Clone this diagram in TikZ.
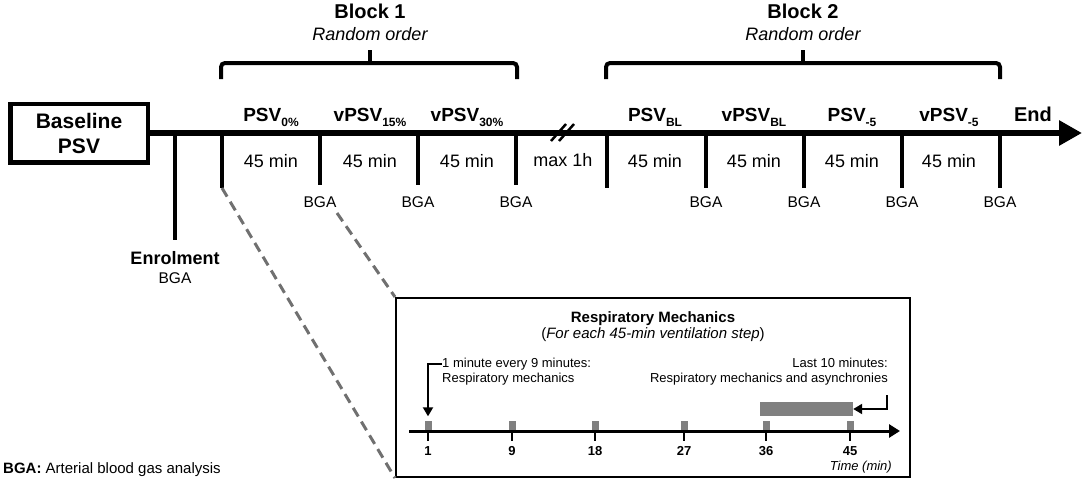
\documentclass[tikz,border=0pt]{standalone}
\usepackage{fontspec}
\setmainfont{Liberation Sans}
\usetikzlibrary{arrows.meta}
\newcommand\fsz[1]{\fontsize{#1pt}{#1pt}\selectfont}
\newcommand\lsub[1]{\raisebox{-5pt}{\fsz{12}#1}}
\definecolor{dashgray}{RGB}{112,112,112}
\definecolor{bargray}{RGB}{128,128,128}
\begin{document}
\begin{tikzpicture}[x=1pt,y=-1pt,
  thickln/.style={line width=6pt},
  tickln/.style={line width=4.5pt},
  brk/.style={line width=4pt, rounded corners=4pt},
  steplbl/.style={anchor=base, font=\fsz{19}\bfseries, inner sep=0pt},
  durlbl/.style={anchor=base, font=\fsz{18}, inner sep=0pt},
  bgalbl/.style={anchor=base, font=\fsz{15.5}, inner sep=0pt},
  blocklbl/.style={anchor=base, font=\fsz{20}\bfseries, inner sep=0pt},
  randlbl/.style={anchor=base, font=\fsz{18}\itshape, inner sep=0pt},
  dashln/.style={dashgray, line width=3pt, dash pattern=on 10pt off 6pt},
  smalltxt/.style={font=\fsz{13}, inner sep=0pt},
  marker/.style={fill=bargray, minimum width=7pt, minimum height=9pt, inner sep=0pt},
  itick/.style={line width=2.5pt},
  ticklbl/.style={anchor=base, font=\fsz{13}\bfseries, inner sep=0pt},
  bentarrow/.style={line width=2pt, -{Triangle[length=9pt,width=10pt]}}
]
\useasboundingbox (0,0) rectangle (1084,482);

% baseline box
\node[draw, line width=4.5pt, minimum width=137.5pt, minimum height=58.5pt,
      align=center, font=\fontsize{21pt}{25pt}\selectfont\bfseries, inner sep=0pt]
      (base) at (79,133) {Baseline\\PSV};

% main timeline
\coordinate (mainend) at (1082,133);
\draw[thickln, -{Triangle[length=23pt,width=24pt]}] (base.east) -- (mainend);

% break marks
\coordinate (b1a) at (551,141); \coordinate (b1b) at (566,124);
\coordinate (b2a) at (559,141); \coordinate (b2b) at (574,124);
\draw[line width=2.5pt] (b1a) -- (b1b);
\draw[line width=2.5pt] (b2a) -- (b2b);
\node[durlbl] (maxh) at (563,166) {max 1h};

% enrolment
\coordinate (en) at (175,133);
\coordinate (enb) at (175,240);
\draw[tickln] (en) -- (enb);
\node[anchor=base, font=\fsz{18}\bfseries, inner sep=0pt] (enl) at (175,264) {Enrolment};
\node[bgalbl] (enbga) at (175,283) {BGA};

% block 1 ticks
\foreach \n/\x/\yb in {t1/222/188, t2/320/185, t3/418/185, t4/516/185,
                       t5/607/188, t6/706/188, t7/804/188, t8/902/188, t9/1000/188}{
  \coordinate (\n) at (\x,133);
  \coordinate (\n b) at (\x,\yb);
  \draw[tickln] (\n) -- (\n b);
}
\foreach \n in {t2,t3,t4,t6,t7,t8,t9}{
  \node[bgalbl] (\n lbl) at ([yshift=-207pt+133pt]\n) {BGA};
}

% step labels block 1
\node[steplbl] (s1) at (271,121) {PSV\lsub{0\%}};
\node[steplbl] (s2) at (370,121) {vPSV\lsub{15\%}};
\node[steplbl] (s3) at (467,121) {vPSV\lsub{30\%}};
\foreach \x/\n in {271/d1,370/d2,467/d3,655/d4,754/d5,852/d6,949/d7}{
  \node[durlbl] (\n) at (\x,167) {45 min};
}
% step labels block 2
\node[steplbl] (s4) at (655,121) {PSV\lsub{BL}};
\node[steplbl] (s5) at (754,121) {vPSV\lsub{BL}};
\node[steplbl] (s6) at (852,121) {PSV\lsub{-5}};
\node[steplbl] (s7) at (949,121) {vPSV\lsub{-5}};
\node[anchor=base, font=\fsz{20}\bfseries, inner sep=0pt] (endl) at (1033,121) {End};

% brackets
\coordinate (k1a) at (221,79); \coordinate (k1b) at (221,63);
\coordinate (k1c) at (517,63); \coordinate (k1d) at (517,79);
\coordinate (k1m) at (370,63); \coordinate (k1t) at (370,50);
\draw[brk] (k1a) -- (k1b) -- (k1c) -- (k1d);
\draw[line width=4pt] (k1m) -- (k1t);
\node[blocklbl] (bl1) at (370,18) {Block 1};
\node[randlbl] (r1) at (370,40) {Random order};

\coordinate (k2a) at (606,79); \coordinate (k2b) at (606,63);
\coordinate (k2c) at (1000,63); \coordinate (k2d) at (1000,79);
\coordinate (k2m) at (803,63); \coordinate (k2t) at (803,50);
\draw[brk] (k2a) -- (k2b) -- (k2c) -- (k2d);
\draw[line width=4pt] (k2m) -- (k2t);
\node[blocklbl] (bl2) at (803,18) {Block 2};
\node[randlbl] (r2) at (803,40) {Random order};

% inset box
\node[draw, line width=2pt, minimum width=514pt, minimum height=179pt, inner sep=0pt]
  (ibox) at (653,387.5) {};
\coordinate (d2s) at (337,213);
\draw[dashln] (t1b) -- (ibox.south west);
\draw[dashln] (d2s) -- (ibox.north west);

\node[anchor=base, font=\fsz{15}\bfseries, inner sep=0pt] (ititle) at (653,322) {Respiratory Mechanics};
\node[anchor=base, font=\fsz{15}, inner sep=0pt] (isub) at (653,338) {(\textit{For each 45-min ventilation step})};

\node[smalltxt, anchor=base west] (n1a) at (442,367) {1 minute every 9 minutes:};
\node[smalltxt, anchor=base west] (n1b) at (442,382) {Respiratory mechanics};
\node[smalltxt, anchor=base east] (n2a) at (888,367) {Last 10 minutes:};
\node[smalltxt, anchor=base east] (n2b) at (888,382) {Respiratory mechanics and asynchronies};

% inset timeline
\coordinate (its) at (409,431);
\coordinate (ite) at (900,431);
\draw[line width=3pt, -{Triangle[length=11pt,width=13pt]}] (its) -- (ite);
\foreach \x/\l/\n in {428/1/m1, 512/9/m2, 595/18/m3, 684/27/m4, 766/36/m5, 850/45/m6}{
  \node[marker] (\n) at (\x,425) {};
  \draw[itick] (\x,431) -- (\x,441);
  \node[ticklbl] (\n lbl) at (\x,455) {\l};
}
\node[anchor=base east, font=\fsz{13}\itshape, inner sep=0pt] (tmin) at (892,470) {Time (min)};

% gray bar
\node[fill=bargray, minimum width=93pt, minimum height=14pt, inner sep=0pt] (bar) at (806.5,409) {};

% bent arrows
\draw[bentarrow] (n1a.west) -| ([yshift=4pt]m1.north);
\coordinate (ra0) at (887,395);
\draw[bentarrow] (ra0) |- (bar.east);

% legend
\node[anchor=base west, font=\fsz{15}, inner sep=0pt] (legend) at (3,473) {\textbf{BGA:} Arterial blood gas analysis};
\end{tikzpicture}
\end{document}
